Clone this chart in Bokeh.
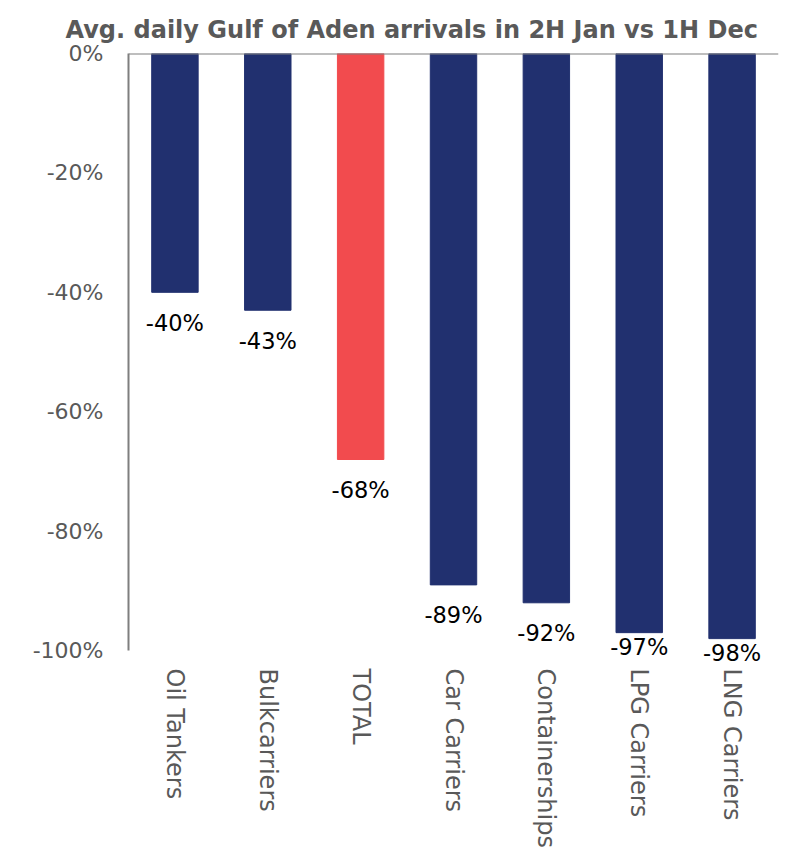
from bokeh.plotting import figure
from bokeh.models import ColumnDataSource, Range1d, Span, FixedTicker, CustomJSTickFormatter, LabelSet
from bokeh.core.properties import value
from bokeh.embed import file_html
from bokeh.resources import INLINE

# Change in average daily Gulf of Aden arrivals by vessel segment (%)
segments = ["Oil Tankers", "Bulkcarriers", "TOTAL", "Car Carriers",
            "Containerships", "LPG Carriers", "LNG Carriers"]
changes = [-40, -43, -68, -89, -92, -97, -98]
bar_colors = ["#21306F", "#21306F", "#F24B4E", "#21306F", "#21306F", "#21306F", "#21306F"]
y_ticks = [0, -20, -40, -60, -80, -100]

FONT = "DejaVu Sans"
GRAY = "#595959"
AXIS_GRAY = "#7F7F7F"

# labels sit under the bar end; ones that would run past the -100% floor
# are tucked up closer to the bar
LABEL_GAP = -17.5      # px below bar end
LABEL_DEPTH = 6.7      # vertical room a label needs, in % units
TUCKED_GAP = -1.5
floor = min(y_ticks)
offsets = [TUCKED_GAP if v - LABEL_DEPTH < floor else LABEL_GAP for v in changes]

src = ColumnDataSource(dict(
    seg=segments,
    val=changes,
    color=bar_colors,
    label=[f"{v}%" for v in changes],
    yoff=offsets,
))

p = figure(
    x_range=segments,
    y_range=Range1d(-102, 0),
    width=795, height=858,
    output_backend="svg", toolbar_location=None,
    min_border_left=128, min_border_right=17,
    min_border_top=53, min_border_bottom=196,
    title="Avg. daily Gulf of Aden arrivals in 2H Jan vs 1H Dec",
)
p.outline_line_color = None
p.background_fill_color = "white"
p.border_fill_color = "white"

p.title.text_font = FONT
p.title.text_font_size = "24px"
p.title.text_font_style = "bold"
p.title.text_color = GRAY
p.title.align = "left"
p.title.offset = -63
p.title.standoff = 20

p.vbar(x="seg", top="val", bottom=0, width=0.5, color="color", source=src)

p.add_layout(LabelSet(x="seg", y="val", text="label", source=src,
                      text_align="center", text_baseline="top", y_offset="yoff",
                      text_font=value(FONT), text_font_size=value("22.5px"),
                      text_color="black"))

# zero line along the top of the bars
p.add_layout(Span(location=0, dimension="width", line_color=AXIS_GRAY, line_width=2))

p.xgrid.visible = False
p.ygrid.visible = False

ya = p.yaxis[0]
ya.ticker = FixedTicker(ticks=y_ticks)
ya.bounds = (floor, 0)
ya.formatter = CustomJSTickFormatter(code="return tick + '%';")
ya.axis_line_color = AXIS_GRAY
ya.axis_line_width = 2
ya.major_tick_line_color = None
ya.minor_tick_line_color = None
ya.major_label_standoff = 19
ya.major_label_text_font = FONT
ya.major_label_text_font_size = "22px"
ya.major_label_text_color = GRAY

xa = p.xaxis[0]
xa.axis_line_color = None
xa.major_tick_line_color = None
xa.minor_tick_line_color = None
xa.major_label_orientation = "vertical"
xa.major_label_standoff = 0
xa.major_label_text_font = FONT
xa.major_label_text_font_size = "24px"
xa.major_label_text_color = GRAY

open("out.html", "w").write(file_html(p, INLINE))
